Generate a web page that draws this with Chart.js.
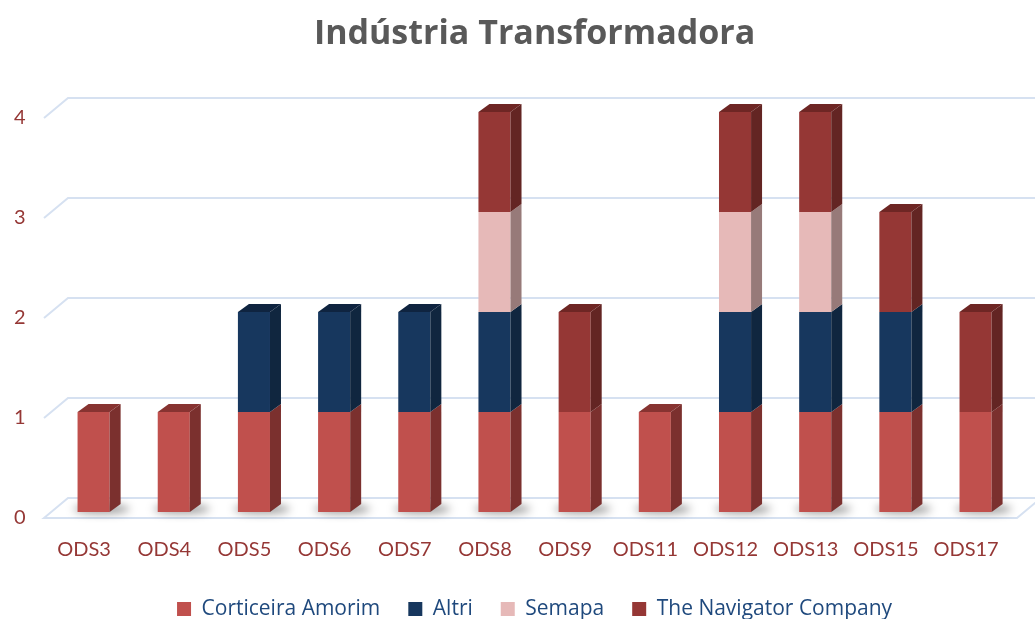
<!DOCTYPE html>
<html>
<head>
<meta charset="utf-8">
<script src="https://cdn.jsdelivr.net/npm/chart.js@4.4.0/dist/chart.umd.min.js"></script>
<style>
  html, body { margin: 0; padding: 0; background: #fff; }
  #wrap { width: 1035px; height: 619px; }
</style>
</head>
<body>
<div id="wrap"><canvas id="myChart"></canvas></div>
<script>
const categories = ["ODS3", "ODS4", "ODS5", "ODS6", "ODS7", "ODS8", "ODS9", "ODS11", "ODS12", "ODS13", "ODS15", "ODS17"];
const corticeira = [1, 1, 1, 1, 1, 1, 1, 1, 1, 1, 1, 1];
const altri      = [0, 0, 1, 1, 1, 1, 0, 0, 1, 1, 1, 0];
const semapa     = [0, 0, 0, 0, 0, 1, 0, 0, 1, 1, 0, 0];
const navigator_ = [0, 0, 0, 0, 0, 1, 1, 0, 1, 1, 1, 1];

// front / side / top colours of each series
const shades = [
  ["#C0504D", "#7B302E", "#873331"],
  ["#17375E", "#10263F", "#0F2440"],
  ["#E6B9B8", "#977A79", "#A08584"],
  ["#953735", "#632523", "#6E2624"],
];

const gridColor = "#D6E1F1";

// 3d walls, floor, shadows and bar sides
const fake3d = {
  id: "fake3d",
  beforeDatasetsDraw(chart) {
    const { ctx, chartArea, scales } = chart;
    const y = scales.y;
    const wx = 24, wy = 20;
    const left = chartArea.left - 9.5;
    const right = chart.width + 6;
    ctx.save();
    // floor
    const f0 = y.getPixelForValue(0) + 6;
    ctx.beginPath();
    ctx.moveTo(left, f0);
    ctx.lineTo(left + wx, f0 - wy);
    ctx.lineTo(right, f0 - wy);
    ctx.lineTo(right - wx, f0);
    ctx.closePath();
    ctx.fillStyle = "#fff";
    ctx.fill();
    ctx.strokeStyle = gridColor;
    ctx.lineWidth = 2;
    ctx.stroke();
    // gridlines on side and back wall
    for (let v = 1; v <= 4; v++) {
      const py = y.getPixelForValue(v) + 6;
      ctx.beginPath();
      ctx.moveTo(left, py);
      ctx.lineTo(left + wx, py - wy);
      ctx.lineTo(right, py - wy);
      ctx.stroke();
    }
    // shadows under bars
    const meta = chart.getDatasetMeta(0);
    ctx.filter = "blur(4px)";
    ctx.fillStyle = "rgba(0,0,0,0.4)";
    meta.data.forEach((bar) => {
      ctx.beginPath();
      ctx.ellipse(bar.x + 8, bar.base - 3, bar.width / 2 + 12, 4.5, 0, 0, Math.PI * 2);
      ctx.fill();
    });
    ctx.filter = "none";
    ctx.restore();
  },
  afterDatasetsDraw(chart) {
    const { ctx } = chart;
    const dx = 11, dy = 8;
    const n = chart.data.labels.length;
    ctx.save();
    for (let i = 0; i < n; i++) {
      let topIdx = -1;
      chart.data.datasets.forEach((ds, d) => {
        if (ds.data[i] > 0) topIdx = d;
      });
      chart.data.datasets.forEach((ds, d) => {
        if (!(ds.data[i] > 0)) return;
        const bar = chart.getDatasetMeta(d).data[i];
        const x1 = bar.x - bar.width / 2, x2 = bar.x + bar.width / 2;
        const yt = bar.y, yb = bar.base;
        ctx.fillStyle = shades[d][1];
        ctx.beginPath();
        ctx.moveTo(x2, yt);
        ctx.lineTo(x2 + dx, yt - dy);
        ctx.lineTo(x2 + dx, yb - dy);
        ctx.lineTo(x2, yb);
        ctx.closePath();
        ctx.fill();
        if (d === topIdx) {
          ctx.fillStyle = shades[d][2];
          ctx.beginPath();
          ctx.moveTo(x1, yt);
          ctx.lineTo(x1 + dx, yt - dy);
          ctx.lineTo(x2 + dx, yt - dy);
          ctx.lineTo(x2, yt);
          ctx.closePath();
          ctx.fill();
        }
      });
    }
    ctx.restore();
  },
};

const ctx = document.getElementById("myChart").getContext("2d");
const myChart = new Chart(ctx, {
  type: "bar",
  data: {
    labels: categories,
    datasets: [
      { label: "Corticeira Amorim", data: corticeira, backgroundColor: shades[0][0] },
      { label: "Altri", data: altri, backgroundColor: shades[1][0] },
      { label: "Semapa", data: semapa, backgroundColor: shades[2][0] },
      { label: "The Navigator Company", data: navigator_, backgroundColor: shades[3][0] },
    ],
  },
  plugins: [fake3d],
  options: {
    responsive: true,
    maintainAspectRatio: false,
    animation: false,
    barPercentage: 0.4,
    categoryPercentage: 1,
    layout: { padding: { left: 0, right: 9.5, top: 14, bottom: -10.5 } },
    scales: {
      x: {
        stacked: true,
        grid: { display: false, drawTicks: false },
        border: { display: false },
        afterFit: (s) => { s.height = 58.5; },
        ticks: {
          color: "#953735",
          font: { family: "Lato", size: 20 },
          padding: 26,
          labelOffset: -9.5,
          maxRotation: 0,
        },
      },
      y: {
        stacked: true,
        min: 0,
        max: 4,
        grid: { display: false, drawTicks: false },
        border: { display: false },
        afterFit: (s) => { s.width = 53.5; },
        ticks: {
          stepSize: 1,
          color: "#953735",
          font: { family: "Lato", size: 20 },
          padding: 28,
          labelOffset: 6,
        },
      },
    },
    plugins: {
      title: {
        display: true,
        fullSize: false,
        text: "Indústria Transformadora",
        color: "#595959",
        font: { family: "Open Sans", size: 34, weight: "bold" },
        padding: { top: 0, bottom: 57.2 },
      },
      legend: {
        position: "bottom",
        fullSize: false,
        labels: {
          color: "#1F497D",
          font: { family: "Open Sans", size: 21 },
          boxWidth: 14,
          boxHeight: 14,
          padding: 28,
        },
      },
      tooltip: { enabled: false },
    },
  },
});
</script>
</body>
</html>
